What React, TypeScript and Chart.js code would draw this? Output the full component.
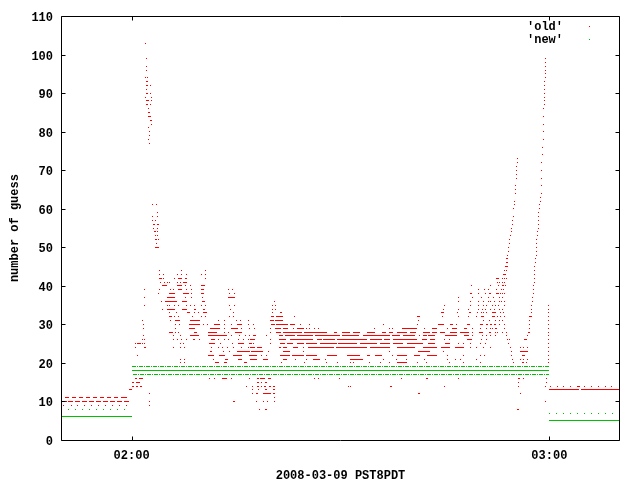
import React, { useEffect, useRef } from "react";
import { Chart, registerables } from "chart.js";

Chart.register(...registerables);

// x values are minutes after 02:00 on 2008-03-09 (PST8PDT)
const xRange = [-10, 70];
const xTickMinutes = [0, 60];
const xTickLabels = ["02:00", "03:00"];
const yRange = [0, 110];
const yStep = 10;
const seriesNames = ["'old'", "'new'"];
const xAxisTitle = "2008-03-09 PST8PDT";
const yAxisTitle = "number of guess";

type Run = [number, number, number]; // [fromMinute, toMinute, value]
type Dot = [number, number]; // [minute, value]

// 'old' : horizontal runs of consecutive samples with the same value
const oldRuns: Run[] = [
  [-10.0, -9.3, 10], [-9.1, -8.4, 10], [-8.1, -7.4, 10], [-7.1, -6.4, 10], [-6.1, -5.4, 10],
  [-5.1, -4.4, 10], [-4.1, -3.4, 10], [-3.1, -2.4, 10], [-2.1, -1.4, 10], [-1.1, -0.4, 10],
  [-9.5, -9.0, 11], [-8.5, -8.0, 11], [-7.5, -7.0, 11], [-6.5, -6.0, 11], [-5.5, -5.0, 11],
  [-4.5, -4.0, 11], [-3.5, -3.0, 11], [-2.5, -2.0, 11], [-1.5, -0.6, 11],
  [-0.4, 0.1, 13], [0.0, 0.3, 14], [0.6, 0.9, 14], [1.2, 1.5, 14], [0.0, 0.4, 15], [0.7, 1.2, 15],
  [0.5, 0.8, 16], [1.1, 1.6, 16],
  [2.1, 2.4, 93], [2.0, 2.4, 92], [2.1, 2.3, 90], [2.0, 2.5, 88], [2.0, 2.3, 87], [2.7, 2.8, 87],
  [2.4, 2.7, 85], [2.4, 2.8, 84], [2.7, 2.9, 83],
  [3.0, 3.3, 56], [3.7, 3.9, 56], [3.2, 3.5, 54], [3.4, 3.6, 52], [3.8, 4.0, 52], [3.4, 3.9, 50],
  [4.0, 4.3, 42], [6.7, 7.2, 42], [7.6, 8.0, 42], [52.3, 52.8, 42],
  [7.4, 8.0, 41],
  [4.3, 5.1, 40], [6.5, 7.2, 40], [10.0, 10.6, 40],
  [6.7, 7.2, 39], [10.0, 10.4, 39],
  [5.3, 6.2, 38], [7.4, 8.2, 38], [10.0, 10.4, 38], [48.6, 48.9, 38], [51.4, 51.6, 38], [52.4, 52.8, 38],
  [5.1, 6.2, 37], [13.9, 14.8, 37],
  [4.8, 6.5, 36], [7.2, 8.0, 36], [10.1, 10.6, 36],
  [5.1, 6.2, 34], [7.2, 8.0, 34], [8.9, 9.2, 34], [10.2, 10.6, 34],
  [7.9, 8.4, 33], [10.2, 10.8, 33], [20.1, 20.3, 33], [21.3, 21.6, 33], [44.5, 44.9, 33], [48.4, 48.8, 33],
  [49.6, 49.8, 33], [51.7, 52.4, 33],
  [5.3, 5.8, 32], [20.0, 20.4, 32], [20.8, 21.7, 32], [41.0, 41.4, 32], [50.2, 50.6, 32], [51.7, 52.2, 32],
  [6.3, 6.9, 31], [8.4, 9.8, 31], [19.9, 20.4, 31], [20.6, 21.8, 31],
  [8.2, 9.8, 30], [11.9, 12.7, 30], [15.1, 15.9, 30], [20.0, 20.6, 30], [20.8, 22.5, 30], [22.7, 23.5, 30],
  [44.0, 44.8, 30], [45.7, 46.2, 30], [48.1, 48.6, 30], [50.0, 50.5, 30], [50.9, 51.2, 30], [51.5, 51.7, 30],
  [52.0, 52.4, 30],
  [8.2, 9.1, 29], [11.2, 12.7, 29], [14.3, 15.3, 29], [20.6, 21.4, 29], [21.8, 22.5, 29], [23.7, 24.7, 29],
  [38.8, 41.0, 29], [43.1, 43.8, 29], [46.0, 46.7, 29], [47.7, 48.1, 29],
  [5.3, 6.0, 28], [8.9, 9.4, 28], [10.9, 12.2, 28], [14.8, 15.9, 28], [20.7, 21.5, 28], [21.8, 24.5, 28],
  [24.8, 28.0, 28], [29.0, 29.5, 28], [30.2, 31.4, 28], [31.8, 32.8, 28], [33.8, 35.0, 28], [35.9, 36.6, 28],
  [37.0, 37.6, 28], [38.1, 39.5, 28], [40.0, 40.9, 28], [41.9, 42.9, 28], [43.2, 43.8, 28], [44.3, 45.0, 28],
  [45.7, 46.7, 28], [47.2, 48.4, 28], [50.0, 50.4, 28],
  [8.4, 9.7, 27], [10.9, 13.7, 27], [17.5, 17.9, 27], [21.1, 21.8, 27], [22.0, 23.5, 27], [23.7, 26.1, 27],
  [26.3, 29.9, 27], [30.2, 32.6, 27], [33.3, 37.1, 27], [37.4, 38.6, 27], [39.0, 40.7, 27], [41.9, 42.4, 27],
  [42.6, 43.6, 27], [45.0, 46.7, 27], [47.7, 48.4, 27],
  [11.4, 12.0, 26], [17.0, 17.7, 26], [21.1, 22.2, 26], [22.7, 26.1, 26], [26.6, 27.3, 26], [27.5, 29.2, 26],
  [29.5, 33.8, 26], [34.2, 35.9, 26], [36.2, 37.1, 26], [37.6, 41.0, 26], [41.7, 42.4, 26], [42.9, 43.6, 26],
  [48.1, 48.9, 26],
  [0.8, 1.4, 25], [11.1, 12.0, 25], [15.3, 16.1, 25], [16.8, 17.3, 25], [21.3, 22.0, 25], [22.3, 23.2, 25],
  [23.7, 24.7, 25], [25.1, 26.6, 25], [27.1, 29.5, 25], [29.7, 32.3, 25], [32.8, 35.2, 25], [35.7, 37.1, 25],
  [37.6, 39.0, 25], [39.5, 41.9, 25], [42.6, 43.6, 25], [45.0, 45.7, 25],
  [17.0, 17.7, 24], [18.0, 18.7, 24], [21.1, 21.5, 24], [21.8, 22.3, 24], [23.2, 23.9, 24], [25.4, 29.0, 24],
  [29.3, 33.8, 24], [34.2, 37.1, 24], [38.1, 40.7, 24], [41.9, 43.8, 24], [44.5, 45.7, 24], [46.5, 47.7, 24],
  [11.2, 11.5, 23], [15.1, 17.0, 23], [17.2, 18.9, 23], [21.8, 22.7, 23], [41.2, 42.9, 23],
  [11.0, 11.8, 22], [12.5, 13.4, 22], [14.6, 15.8, 22], [16.8, 18.0, 22], [21.3, 22.7, 22], [23.0, 24.7, 22],
  [25.1, 26.6, 22], [28.0, 29.5, 22], [30.9, 32.8, 22], [33.8, 34.2, 22], [35.0, 35.9, 22], [38.1, 39.5, 22],
  [40.5, 41.4, 22], [42.4, 43.8, 22],
  [13.4, 13.9, 21], [15.3, 15.8, 21], [17.0, 18.0, 21], [18.9, 19.6, 21], [21.8, 22.3, 21], [26.1, 27.1, 21],
  [31.4, 33.3, 21],
  [12.0, 12.5, 20], [13.2, 13.7, 20], [16.1, 16.5, 20], [38.1, 39.5, 20],
  [13.0, 13.7, 16], [18.0, 18.3, 16], [18.5, 19.2, 16], [19.6, 20.0, 16], [42.3, 42.5, 16],
  [18.0, 18.3, 15], [19.2, 19.5, 15],
  [18.0, 18.3, 14], [19.0, 19.3, 14], [19.7, 20.0, 14], [20.3, 20.6, 14], [37.1, 37.4, 14],
  [19.2, 19.5, 13], [20.3, 20.6, 13],
  [17.9, 18.2, 12], [18.9, 20.0, 12], [20.3, 20.6, 12], [41.1, 41.4, 12],
  [14.5, 14.8, 10],
  [19.2, 19.5, 8],
  [53.8, 54.1, 47], [53.6, 54.0, 45], [53.4, 53.8, 43],
  [55.8, 56.9, 23], [56.0, 56.5, 22], [56.1, 56.3, 20], [55.5, 55.8, 16], [55.4, 55.7, 8],
  [56.4, 56.8, 26], [56.9, 57.2, 28], [57.2, 57.5, 32],
  [60.0, 64.3, 13], [64.6, 70.0, 13], [64.0, 64.4, 14],
];

// 'old' : isolated samples
const oldDots: Dot[] = [
  [-9.8, 9], [-8.7, 9], [-7.8, 9], [-6.8, 9], [-5.8, 9], [-4.8, 9], [-3.8, 9], [-2.8, 9], [-1.8, 9], [-0.7, 9],
  [0.5, 17], [0.9, 22], [0.6, 24], [0.6, 25], [1.8, 24], [2.0, 24], [1.5, 25], [1.8, 25], [1.6, 26], [1.9, 26],
  [1.7, 27], [1.7, 29], [1.7, 30], [1.5, 31], [1.8, 35], [1.8, 37], [1.8, 39], [2.5, 12], [2.5, 10], [2.5, 9],
  [2.0, 103], [2.1, 99], [2.1, 97], [2.1, 96], [2.0, 94], [2.3, 94], [2.7, 92], [2.1, 91], [2.7, 90], [2.0, 89],
  [2.8, 89], [2.8, 88], [2.4, 86], [2.8, 82], [2.4, 81], [2.5, 80], [2.5, 79], [2.4, 78], [2.5, 77],
  [3.0, 61], [3.6, 61], [3.7, 59], [3.0, 58], [3.7, 58], [3.0, 57], [3.4, 57], [3.2, 55], [3.7, 55], [3.7, 54],
  [3.5, 53], [3.7, 53], [3.6, 51],
  [4.0, 44], [7.2, 44], [10.6, 44],
  [4.0, 43], [4.6, 43], [6.6, 43], [7.2, 43], [7.9, 43], [10.0, 43], [10.6, 43],
  [4.6, 42], [6.1, 42], [10.6, 42],
  [4.2, 41], [4.7, 41], [5.2, 41], [5.5, 41], [6.6, 41], [7.0, 41], [52.5, 41], [52.8, 41],
  [7.8, 40], [8.4, 40], [48.8, 40], [51.5, 40], [52.7, 40],
  [4.0, 39], [5.6, 39], [6.0, 39], [7.9, 39], [8.6, 39], [13.9, 39], [14.5, 39], [49.8, 39], [50.7, 39], [51.3, 39], [52.4, 39],
  [3.9, 38], [8.6, 38], [14.0, 38], [14.8, 38], [49.8, 38], [50.8, 38],
  [7.7, 37], [8.6, 37], [10.2, 37], [47.0, 37], [48.9, 37], [50.3, 37], [51.2, 37], [52.0, 37],
  [4.3, 36], [20.5, 36], [47.0, 36], [48.6, 36], [49.8, 36], [50.6, 36], [51.2, 36], [51.5, 36], [52.1, 36],
  [52.8, 36], [53.5, 36],
  [5.1, 35], [5.5, 35], [6.1, 35], [6.7, 35], [7.9, 35], [8.4, 35], [9.1, 35], [10.1, 35], [10.6, 35], [14.0, 35],
  [14.8, 35], [20.2, 35], [20.6, 35], [44.9, 35], [48.6, 35], [49.8, 35], [50.5, 35], [51.0, 35], [51.8, 35],
  [52.2, 35], [52.7, 35], [53.5, 35],
  [4.4, 34], [14.2, 34], [20.2, 34], [20.6, 34], [44.8, 34], [46.9, 34], [48.4, 34], [49.8, 34], [50.4, 34],
  [50.8, 34], [51.5, 34], [52.1, 34], [52.8, 34], [53.3, 34],
  [5.4, 33], [6.5, 33], [9.1, 33], [9.6, 33], [14.6, 33], [46.8, 33], [50.2, 33], [50.5, 33], [51.0, 33], [53.0, 33], [53.4, 33],
  [6.2, 32], [6.7, 32], [8.8, 32], [10.1, 32], [10.6, 32], [14.0, 32], [14.6, 32], [23.4, 32], [44.7, 32],
  [46.9, 32], [48.4, 32], [49.6, 32], [50.5, 32], [52.5, 32], [53.0, 32], [53.6, 32],
  [5.6, 31], [12.5, 31], [13.4, 31], [15.0, 31], [15.7, 31], [16.8, 31], [41.2, 31], [50.6, 31], [51.4, 31],
  [52.2, 31], [52.9, 31], [53.3, 31],
  [6.3, 30], [6.9, 30], [10.3, 30], [10.9, 30], [13.4, 30], [14.3, 30], [16.8, 30], [17.5, 30], [24.2, 30],
  [25.6, 30], [36.2, 30], [41.1, 30], [46.7, 30], [50.3, 30], [52.9, 30], [53.5, 30],
  [6.3, 29], [13.4, 29], [15.8, 29], [16.9, 29], [17.6, 29], [20.0, 29], [23.2, 29], [25.1, 29], [25.6, 29],
  [26.3, 29], [26.8, 29], [34.9, 29], [37.0, 29], [37.5, 29], [42.1, 29], [45.3, 29], [48.9, 29], [50.1, 29],
  [51.0, 29], [51.5, 29], [51.8, 29], [52.2, 29], [52.4, 29], [53.6, 29],
  [6.3, 28], [6.7, 28], [13.4, 28], [13.9, 28], [20.0, 28], [48.9, 28], [50.0, 28], [51.4, 28], [51.6, 28],
  [52.2, 28], [52.6, 28], [53.2, 28], [53.8, 28],
  [6.0, 27], [7.0, 27], [14.3, 27], [15.5, 27], [16.3, 27], [17.0, 27], [19.4, 27], [41.4, 27], [48.9, 27],
  [50.4, 27], [51.0, 27], [51.5, 27], [52.2, 27], [53.9, 27],
  [6.0, 26], [6.6, 26], [7.2, 26], [7.9, 26], [8.9, 26], [9.1, 26], [9.8, 26], [12.5, 26], [13.4, 26], [13.9, 26],
  [15.3, 26], [16.1, 26], [16.8, 26], [19.9, 26], [45.0, 26], [45.7, 26], [50.2, 26], [50.9, 26], [54.0, 26], [54.3, 26],
  [7.0, 25], [7.5, 25], [12.7, 25], [14.5, 25], [17.5, 25], [20.0, 25], [46.9, 25], [47.7, 25], [48.6, 25],
  [50.1, 25], [50.8, 25], [54.2, 25],
  [6.0, 24], [7.0, 24], [7.6, 24], [11.5, 24], [12.5, 24], [13.0, 24], [13.7, 24], [14.6, 24], [15.8, 24],
  [16.8, 24], [24.7, 24], [48.6, 24], [49.6, 24], [50.5, 24], [51.5, 24], [54.4, 24],
  [13.2, 23], [14.0, 23], [19.6, 23], [24.7, 23], [37.1, 23], [44.8, 23], [54.5, 23],
  [18.7, 22], [19.4, 22], [37.4, 22], [45.3, 22], [47.7, 22], [50.1, 22], [50.7, 22], [54.6, 22],
  [7.0, 21], [7.6, 21], [11.8, 21], [23.5, 21], [25.1, 21], [27.8, 21], [36.2, 21], [38.1, 21], [39.5, 21],
  [42.1, 21], [45.3, 21], [46.5, 21], [47.2, 21], [49.6, 21], [54.7, 21],
  [7.0, 20], [7.6, 20], [21.5, 20], [24.9, 20], [28.0, 20], [29.5, 20], [31.4, 20], [31.8, 20], [34.2, 20],
  [35.7, 20], [37.1, 20], [41.0, 20], [42.4, 20], [45.7, 20], [47.7, 20], [50.1, 20], [54.8, 20],
  [11.2, 16], [11.9, 16], [14.3, 16], [17.0, 16], [26.2, 16], [26.8, 16], [29.8, 16], [38.8, 16], [47.0, 16],
  [18.7, 15],
  [16.5, 14], [17.3, 14], [18.7, 14], [31.1, 14], [31.5, 14], [44.9, 14],
  [17.3, 13], [18.2, 13], [17.3, 12], [20.5, 11],
  [18.0, 10], [19.0, 10], [19.5, 10], [20.5, 10], [18.3, 8],
  [55.4, 73], [55.4, 72], [55.3, 71], [55.3, 70], [55.3, 69], [55.3, 68], [55.2, 66], [55.2, 65], [55.1, 64],
  [55.0, 62], [55.0, 61], [54.9, 60], [54.8, 58], [54.7, 57], [54.7, 56], [54.6, 55], [54.5, 54], [54.4, 53],
  [54.3, 52], [54.3, 51], [54.2, 50], [54.1, 49], [54.0, 48], [53.8, 46], [54.0, 46], [53.5, 44], [53.8, 44],
  [53.3, 42], [53.6, 42], [53.9, 42], [53.3, 41], [53.5, 41], [53.2, 40], [53.4, 40], [53.7, 40], [53.1, 39],
  [53.4, 39], [53.0, 38], [53.3, 38], [53.6, 38], [52.9, 37], [53.2, 37], [53.1, 36],
  [55.8, 24], [56.3, 24], [56.8, 24], [55.8, 21], [56.3, 21], [56.8, 21], [56.7, 20], [56.3, 16], [55.6, 15],
  [55.5, 14], [55.8, 12],
  [56.7, 26], [56.9, 27], [57.0, 28], [57.1, 29], [57.1, 30], [57.2, 31], [57.2, 32], [57.4, 33], [57.5, 34],
  [57.5, 35], [57.6, 36], [57.6, 37], [57.7, 38], [57.7, 39], [57.7, 40], [57.8, 41], [57.8, 42], [57.9, 43],
  [57.9, 44], [57.9, 45], [58.0, 46], [58.0, 47], [58.1, 48], [58.1, 49], [58.2, 50], [58.2, 51], [58.2, 52],
  [58.3, 53], [58.3, 54], [58.4, 55], [58.4, 56], [58.5, 57], [58.5, 58], [58.5, 59], [58.6, 60], [58.6, 61],
  [58.7, 62], [58.7, 63], [58.8, 64], [58.8, 66], [58.8, 68], [58.9, 70], [58.9, 72], [59.0, 74], [59.0, 76],
  [59.1, 78], [59.1, 80], [59.2, 82], [59.2, 84], [59.2, 86], [59.3, 87], [59.3, 88], [59.3, 89], [59.3, 90],
  [59.3, 91], [59.3, 92], [59.3, 93], [59.4, 94], [59.4, 95], [59.4, 96], [59.4, 97], [59.4, 98], [59.4, 99],
  [59.9, 20], [59.9, 21], [59.9, 22], [59.9, 23], [59.9, 24], [59.9, 25], [59.9, 26], [59.9, 27], [59.9, 28],
  [59.9, 29], [59.9, 30], [59.9, 31], [59.9, 32], [59.9, 33], [59.9, 34], [59.9, 35],
  [59.6, 16], [59.6, 15], [59.5, 14], [59.4, 10],
  [60.1, 14], [61.1, 14], [62.0, 14], [63.0, 14], [65.1, 14], [66.1, 14], [67.0, 14], [68.0, 14], [68.9, 14],
];

// 'new' : solid runs, dash-dot runs and isolated samples
const newRuns: Run[] = [
  [-10.0, 0.0, 6], [0.0, 60.0, 18], [60.0, 70.0, 5],
];
const newDashRuns: Run[] = [
  [0.0, 60.0, 19], [0.2, 60.0, 17],
];
const newDots: Dot[] = [
  [-9.1, 8], [-8.0, 8], [-7.1, 8], [-6.1, 8], [-5.0, 8], [-4.0, 8], [-3.0, 8], [-2.0, 8], [-1.0, 8],
  [60.0, 7], [61.0, 7], [62.0, 7], [63.0, 7], [64.0, 7], [65.0, 7], [66.0, 7], [67.0, 7], [68.0, 7], [69.0, 7],
];

const RED = "#ff0000";
const GREEN = "#00c000";
const FONT = { family: '"Liberation Mono", "DejaVu Sans Mono", monospace', size: 12, weight: "bold" as const };
const FONT_CSS = 'bold 12px "Liberation Mono", "DejaVu Sans Mono", monospace';

function runData(runs: Run[]) {
  const out: { x: number; y: number | null }[] = [];
  runs.forEach(([a, b, y]) => {
    out.push({ x: a, y }, { x: b, y }, { x: b, y: null });
  });
  return out;
}
function dotData(dots: Dot[]) {
  return dots.map(([x, y]) => ({ x, y }));
}

// snap computed element positions to the pixel grid (crisp 1px marks like a bitmap terminal)
const pixelSnap = {
  id: "pixelSnap",
  afterDatasetsUpdate(chart: any) {
    chart.data.datasets.forEach((ds: any, i: number) => {
      const meta = chart.getDatasetMeta(i);
      const isLine = !!ds.showLine;
      meta.data.forEach((el: any) => {
        if (!Number.isFinite(el.x) || !Number.isFinite(el.y)) return;
        el.y = Math.floor(el.y) + 0.5;
        el.x = isLine ? Math.round(el.x) : Math.floor(el.x) + 0.5;
      });
    });
  },
};

const gnuFrame = {
  id: "gnuFrame",
  afterDraw(chart: any) {
    const { ctx, chartArea } = chart;
    const xs = chart.scales.x;
    const ys = chart.scales.y;
    const L = Math.round(chartArea.left) - 0.5;
    const R = Math.round(chartArea.right) + 0.5;
    const T = Math.round(chartArea.top) + 0.5;
    const B = Math.round(chartArea.bottom) + 0.5;
    ctx.save();
    ctx.strokeStyle = "#000";
    ctx.lineWidth = 1;
    ctx.beginPath();
    ctx.rect(L, T, R - L, B - T);
    ys.ticks.forEach((t: any) => {
      const p = Math.round(ys.getPixelForValue(t.value)) + 0.5;
      ctx.moveTo(L, p); ctx.lineTo(L + 4, p);
      ctx.moveTo(R, p); ctx.lineTo(R - 4, p);
    });
    xs.ticks.forEach((t: any) => {
      const p = Math.round(xs.getPixelForValue(t.value)) + 0.5;
      ctx.moveTo(p, B); ctx.lineTo(p, B - 4);
      ctx.moveTo(p, T); ctx.lineTo(p, T + 4);
    });
    ctx.stroke();
    // key
    const colors = [RED, GREEN];
    ctx.font = FONT_CSS;
    ctx.textAlign = "right";
    ctx.textBaseline = "middle";
    seriesNames.forEach((name, i) => {
      const y = Math.round(chartArea.top) + 10 + i * 13;
      ctx.fillStyle = "#000";
      ctx.fillText(name, Math.round(chartArea.right) - 56, y + 1);
      ctx.fillStyle = colors[i];
      ctx.fillRect(Math.round(chartArea.right) - 30, y, 1, 1);
    });
    ctx.restore();
  },
};

export default function App() {
  const ref = useRef<HTMLCanvasElement>(null);
  useEffect(() => {
    const canvas = ref.current;
    if (!canvas) return;
    const lineStyle = {
      showLine: true, pointRadius: 0, pointHoverRadius: 0, borderWidth: 1, spanGaps: false, fill: false, tension: 0,
    };
    const dotStyle = {
      showLine: false, pointStyle: "rect", pointRadius: 0.7072, pointHoverRadius: 0.7072, pointBorderWidth: 0,
    };
    const chart = new Chart(canvas, {
      type: "scatter",
      data: {
        datasets: [
          { label: seriesNames[1], data: runData(newRuns), borderColor: GREEN, backgroundColor: GREEN, ...lineStyle } as any,
          { label: seriesNames[1], data: runData(newDashRuns), borderColor: GREEN, backgroundColor: GREEN, borderDash: [4, 1, 1, 1], ...lineStyle } as any,
          { label: seriesNames[1], data: dotData(newDots), backgroundColor: GREEN, borderColor: GREEN, ...dotStyle } as any,
          { label: seriesNames[0], data: runData(oldRuns), borderColor: RED, backgroundColor: RED, ...lineStyle } as any,
          { label: seriesNames[0], data: dotData(oldDots), backgroundColor: RED, borderColor: RED, ...dotStyle } as any,
        ],
      },
      options: {
        responsive: false,
        animation: false,
        devicePixelRatio: 1,
        events: [],
        layout: { padding: { top: 13, right: 21, left: 0, bottom: 0 } },
        plugins: { legend: { display: false }, tooltip: { enabled: false } },
        scales: {
          x: {
            type: "linear",
            min: xRange[0],
            max: xRange[1],
            afterBuildTicks: (s: any) => {
              s.ticks = xTickMinutes.map((value) => ({ value }));
            },
            afterFit: (s: any) => {
              s.height = 40;
            },
            grid: { display: false, drawTicks: false },
            border: { display: false },
            ticks: {
              font: FONT, color: "#000", padding: 9, maxRotation: 0, autoSkip: false,
              callback: (v: any) => xTickLabels[xTickMinutes.indexOf(Number(v))] ?? "",
            },
            title: { display: true, text: xAxisTitle, font: FONT, color: "#000", padding: { top: 0, bottom: -3 } },
          },
          y: {
            type: "linear",
            min: yRange[0],
            max: yRange[1],
            afterFit: (s: any) => {
              s.width = 62;
            },
            grid: { display: false, drawTicks: false },
            border: { display: false },
            ticks: { stepSize: yStep, font: FONT, color: "#000", padding: 9, labelOffset: 2 },
            title: { display: true, text: yAxisTitle, font: FONT, color: "#000", padding: { top: 8, bottom: 0 } },
          },
        },
      } as any,
      plugins: [pixelSnap, gnuFrame],
    });
    return () => chart.destroy();
  }, []);
  return (
    <div style={{ position: "absolute", left: 0, top: 0, width: 640, height: 480, background: "#fff" }}>
      <canvas ref={ref} width={640} height={480} style={{ display: "block", width: 640, height: 480 }} />
    </div>
  );
}
